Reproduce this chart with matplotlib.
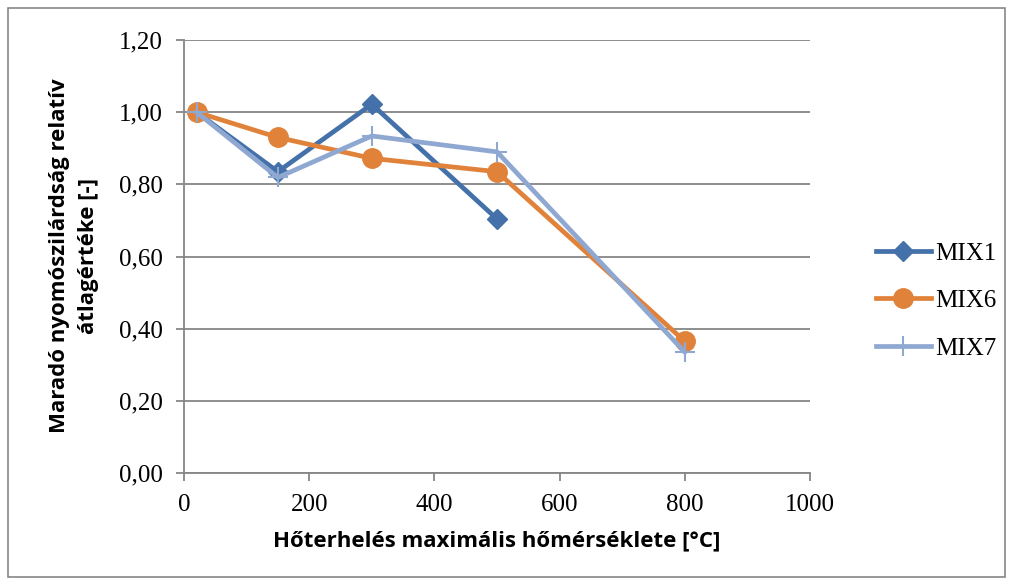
import matplotlib
matplotlib.use("Agg")
import matplotlib.pyplot as plt
from matplotlib.patches import Rectangle
from matplotlib.ticker import FuncFormatter

temps_mix1 = [20, 150, 300, 500]
mix1 = [1.00, 0.835, 1.022, 0.704]
temps_mix6 = [20, 150, 300, 500, 800]
mix6 = [1.00, 0.930, 0.872, 0.835, 0.365]
temps_mix7 = [20, 150, 300, 500, 800]
mix7 = [1.00, 0.819, 0.934, 0.890, 0.335]

x_ticks = [0, 200, 400, 600, 800, 1000]
y_ticks = [0.0, 0.2, 0.4, 0.6, 0.8, 1.0, 1.2]

xlabel = "Hőterhelés maximális hőmérséklete [°C]"
ylabel = "Maradó nyomószilárdság relatív\nátlagértéke [-]"

fig = plt.figure(figsize=(10.13, 5.85), dpi=100)
ax = fig.add_axes([184/1013, 1-473/585, (810-184)/1013, (473-40)/585])

grey = "#868686"
c1, c6, c7 = "#4471A9", "#E0823A", "#8FA8D2"

ax.plot(temps_mix1, mix1, color=c1, lw=3.4, marker="D", ms=10, label="MIX1", zorder=3)
ax.plot(temps_mix6, mix6, color=c6, lw=3.4, marker="o", ms=14, label="MIX6", zorder=4)
ax.plot(temps_mix7, mix7, color=c7, lw=3.4, marker="+", ms=14, mew=1.5, label="MIX7", zorder=5)

ax.set_xlim(0, 1000)
ax.set_ylim(0, 1.2)
ax.set_xticks(x_ticks)
ax.set_yticks(y_ticks)
ax.yaxis.set_major_formatter(FuncFormatter(lambda v, p: f"{v:.2f}".replace(".", ",")))
ax.grid(axis="y", color=grey, lw=1.3, zorder=0)
for s in ["top", "right"]:
    ax.spines[s].set_visible(False)
for s in ["left", "bottom"]:
    ax.spines[s].set_color(grey)
    ax.spines[s].set_linewidth(1.3)
ax.tick_params(direction="out", length=6, width=1.3, color=grey, labelsize=18, pad=9)
for lab in ax.get_xticklabels() + ax.get_yticklabels():
    lab.set_fontfamily("Liberation Serif")

fig.text(497/1013, 1-541/585, xlabel, ha="center", va="center", fontsize=16,
         fontweight="bold", family="Open Sans")
fig.text(74/1013, 1-256/585, ylabel, ha="center", va="center", fontsize=16,
         fontweight="bold", family="Open Sans", rotation=90, linespacing=1.55,
         multialignment="center")

leg = fig.legend(loc="center left", bbox_to_anchor=(853/1013, 1-301/585), frameon=False,
                 prop={"family": "Liberation Serif", "size": 18}, handlelength=2.2,
                 handletextpad=0.2, labelspacing=1.0)

fig.patches.append(Rectangle((8/1013, 8/585), (1005-8)/1013, (577-8)/585,
                             transform=fig.transFigure, fill=False, edgecolor=grey, lw=1.2))

fig.savefig("out.png", dpi=100)
